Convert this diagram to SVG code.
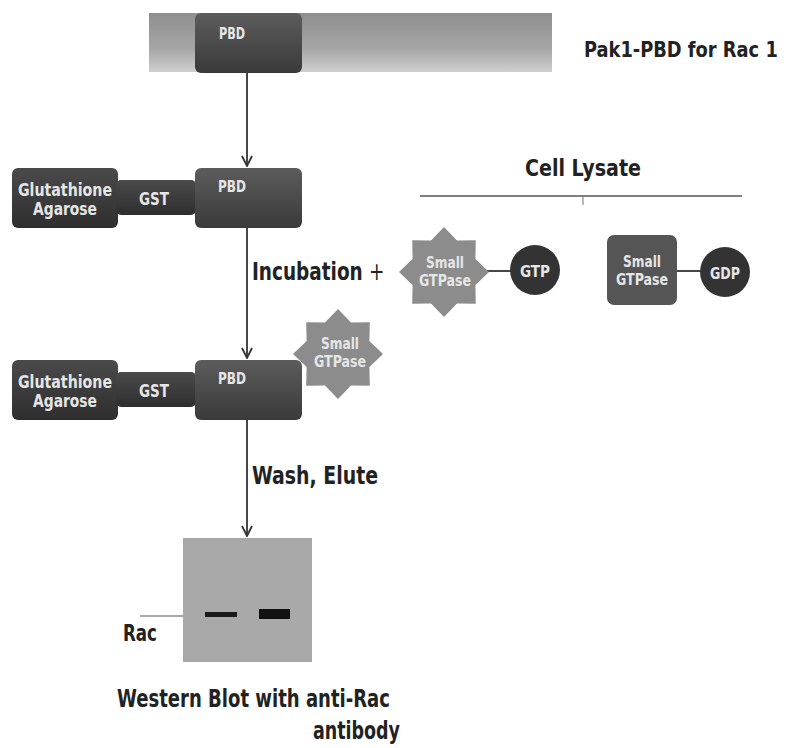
<svg xmlns="http://www.w3.org/2000/svg" width="794" height="748" viewBox="0 0 794 748">
<defs>
<linearGradient id="bar" x1="0" y1="0" x2="0" y2="1">
<stop offset="0" stop-color="#8e8e8e"/><stop offset="0.6" stop-color="#a6a6a6"/><stop offset="1" stop-color="#cfcfcf"/>
</linearGradient>
<linearGradient id="dark" x1="0" y1="0" x2="0" y2="1">
<stop offset="0" stop-color="#4a4a4a"/><stop offset="1" stop-color="#2e2e2e"/>
</linearGradient>
<linearGradient id="pbd" x1="0" y1="0" x2="0" y2="1">
<stop offset="0" stop-color="#5c5c5c"/><stop offset="1" stop-color="#3a3a3a"/>
</linearGradient>
<marker id="arr" viewBox="0 0 12 12" refX="11" refY="6" markerWidth="12" markerHeight="12" markerUnits="userSpaceOnUse" orient="auto">
<path d="M1,1 L11,6 L1,11" fill="none" stroke="#333" stroke-width="1.8"/>
</marker>
<polygon id="star" points="0,-45 13,-31.4 31.8,-31.8 31.4,-13 45,0 31.4,13 31.8,31.8 13,31.4 0,45 -13,31.4 -31.8,31.8 -31.4,13 -45,0 -31.4,-13 -31.8,-31.8 -13,-31.4"/>
</defs>
<style>
.t{font-family:"Liberation Sans Narrow","DejaVu Sans Condensed","Liberation Sans",sans-serif;font-weight:bold;fill:#222}
.w{font-family:"Liberation Sans Narrow","DejaVu Sans Condensed","Liberation Sans",sans-serif;font-weight:bold;fill:#e6e6e6;text-anchor:middle}
.box{fill:url(#dark)}
.pbd{fill:url(#pbd)}
.gt{fill:#8c8c8c}
.ln{stroke:#333;stroke-width:1.8;fill:none}
</style>
<rect width="794" height="748" fill="#fff"/>

<g id="pak1-bar">
<rect x="149" y="13" width="403" height="59" fill="url(#bar)"/>
<rect x="195" y="13" width="107" height="60" rx="6" class="pbd"/>
<text x="232" y="39" class="w" font-size="15" textLength="26" lengthAdjust="spacingAndGlyphs">PBD</text>
</g>
<text transform="translate(584,57) scale(0.85,1)" class="t" font-size="22" textLength="228" lengthAdjust="spacingAndGlyphs">Pak1-PBD for Rac 1</text>

<g id="connectors">
<line x1="247" y1="73" x2="247" y2="166" class="ln" marker-end="url(#arr)"/>
<line x1="247" y1="228" x2="247" y2="358" class="ln" marker-end="url(#arr)"/>
<line x1="247" y1="420" x2="247" y2="536" class="ln" marker-end="url(#arr)"/>
<line x1="482" y1="271" x2="512" y2="271" class="ln" stroke-width="2.5"/>
<line x1="677" y1="271" x2="702" y2="271" class="ln" stroke-width="2.5"/>
<line x1="140" y1="616" x2="183" y2="616" stroke="#555" stroke-width="1.2"/>
<line x1="420" y1="196" x2="742" y2="196" stroke="#555" stroke-width="1.5"/>
<line x1="583" y1="196" x2="583" y2="205" stroke="#777" stroke-width="1"/>
</g>

<g id="row2">
<rect x="12" y="168" width="106" height="60" rx="6" class="box"/>
<text x="65" y="196" class="w" font-size="17" textLength="94" lengthAdjust="spacingAndGlyphs">Glutathione</text>
<text x="65" y="215" class="w" font-size="17" textLength="64" lengthAdjust="spacingAndGlyphs">Agarose</text>
<rect x="116" y="180" width="80" height="35" rx="5" class="box"/>
<text x="154" y="205" class="w" font-size="18" textLength="30" lengthAdjust="spacingAndGlyphs">GST</text>
<rect x="195" y="168" width="107" height="60" rx="6" class="pbd"/>
<text x="232" y="192" class="w" font-size="16" textLength="28" lengthAdjust="spacingAndGlyphs">PBD</text>
</g>

<text transform="translate(252,280) scale(0.85,1)" class="t" font-size="24" textLength="156" lengthAdjust="spacingAndGlyphs">Incubation <tspan font-weight="normal">+</tspan></text>

<text x="583" y="176" class="t" font-size="23" text-anchor="middle" textLength="116" lengthAdjust="spacingAndGlyphs">Cell Lysate</text>

<g id="gtp-complex">
<use href="#star" x="444" y="272" class="gt"/>
<text x="445" y="268" class="w" font-size="15" textLength="38" lengthAdjust="spacingAndGlyphs">Small</text>
<text x="445" y="286" class="w" font-size="15" textLength="52" lengthAdjust="spacingAndGlyphs">GTPase</text>
<circle cx="535" cy="270" r="25" fill="#333"/>
<text x="535" y="277" class="w" font-size="16" textLength="30" lengthAdjust="spacingAndGlyphs">GTP</text>
</g>

<g id="gdp-complex">
<rect x="607" y="235" width="70" height="70" rx="7" fill="#555"/>
<text x="642" y="267" class="w" font-size="15" textLength="38" lengthAdjust="spacingAndGlyphs">Small</text>
<text x="642" y="285" class="w" font-size="15" textLength="52" lengthAdjust="spacingAndGlyphs">GTPase</text>
<circle cx="725" cy="272" r="25" fill="#333"/>
<text x="725" y="279" class="w" font-size="16" textLength="30" lengthAdjust="spacingAndGlyphs">GDP</text>
</g>

<g id="row3">
<rect x="12" y="360" width="106" height="60" rx="6" class="box"/>
<text x="65" y="388" class="w" font-size="17" textLength="94" lengthAdjust="spacingAndGlyphs">Glutathione</text>
<text x="65" y="407" class="w" font-size="17" textLength="64" lengthAdjust="spacingAndGlyphs">Agarose</text>
<rect x="116" y="372" width="80" height="35" rx="5" class="box"/>
<text x="154" y="397" class="w" font-size="18" textLength="30" lengthAdjust="spacingAndGlyphs">GST</text>
<rect x="195" y="360" width="107" height="60" rx="6" class="pbd"/>
<text x="232" y="384" class="w" font-size="16" textLength="28" lengthAdjust="spacingAndGlyphs">PBD</text>
<use href="#star" x="338" y="354" class="gt"/>
<text x="340" y="349" class="w" font-size="15" textLength="38" lengthAdjust="spacingAndGlyphs">Small</text>
<text x="340" y="367" class="w" font-size="15" textLength="52" lengthAdjust="spacingAndGlyphs">GTPase</text>
</g>

<text x="252" y="484" class="t" font-size="24" textLength="126" lengthAdjust="spacingAndGlyphs">Wash, Elute</text>

<g id="blot">
<rect x="183" y="538" width="129" height="124" fill="#a9a9a9"/>
<rect x="205" y="612" width="32" height="5" fill="#1a1a1a"/>
<rect x="259" y="609" width="31" height="10" fill="#111"/>
</g>
<text x="123" y="641" class="t" font-size="23" textLength="34" lengthAdjust="spacingAndGlyphs">Rac</text>

<text x="117" y="707" class="t" font-size="25" textLength="273" lengthAdjust="spacingAndGlyphs">Western Blot with anti-Rac</text>
<text x="400" y="739" class="t" font-size="25" text-anchor="end" textLength="87" lengthAdjust="spacingAndGlyphs">antibody</text>
</svg>
